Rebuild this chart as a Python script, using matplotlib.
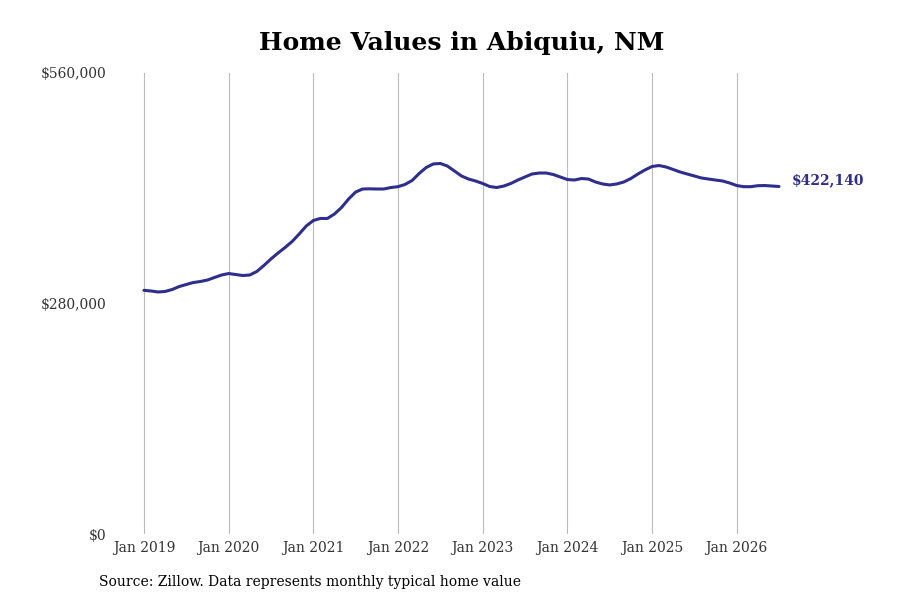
import numpy as np
import matplotlib
matplotlib.use("Agg")
import matplotlib.pyplot as plt
from matplotlib.ticker import FuncFormatter

# Monthly typical home value, Jan 2019 .. Jul 2026
months = np.arange(91)
values = [
    296000, 295200, 294000, 294600, 297000, 300600, 303100, 305500, 306700, 308500, 311600, 314600,
    316400, 315200, 314000, 314600, 318900, 326200, 334100, 341300, 348000, 355300, 364400, 374100,
    380800, 383300, 383300, 388700, 396600, 406900, 415400, 419100, 419300, 419100, 419100, 420900,
    421900, 424600, 429400, 437900, 445200, 449500, 450100, 447000, 441000, 434900, 431200, 428800,
    425800, 422100, 420900, 422700, 425800, 430000, 433700, 437300, 438500, 438500, 436700, 433700,
    430600, 430000, 431800, 431200, 427600, 425200, 424000, 425200, 427600, 431800, 437300, 442200,
    446400, 447600, 445800, 442800, 439700, 437300, 434900, 432500, 431200, 430000, 428800, 426400,
    423300, 421900, 421900, 423100, 423300, 422700, 422140,
]
tick_pos = [0, 12, 24, 36, 48, 60, 72, 84]
tick_labels = ["Jan 2019", "Jan 2020", "Jan 2021", "Jan 2022",
               "Jan 2023", "Jan 2024", "Jan 2025", "Jan 2026"]
y_ticks = [0, 280000, 560000]

line_color = "#2e2e8c"
plt.rcParams['font.family'] = ['DejaVu Serif']

fig = plt.figure(figsize=(9, 6), dpi=100)
ax = fig.add_axes([115 / 900, 66 / 600, 670 / 900, 461 / 600])

ax.plot(months, values, color=line_color, linewidth=2.2, solid_capstyle='round')

ax.set_xlim(-4.1, 90.85)
ax.set_ylim(0, 560000)
ax.set_xticks(tick_pos)
ax.set_xticklabels(tick_labels)
ax.set_yticks(y_ticks)
ax.yaxis.set_major_formatter(FuncFormatter(lambda v, p: f"${v:,.0f}"))
ax.tick_params(axis='both', length=0, labelsize=10, colors="#333333")
ax.tick_params(axis='x', pad=5)
ax.tick_params(axis='y', pad=6)
ax.grid(axis='x', color="#bbbbbb", linewidth=0.8)
for s in ax.spines.values():
    s.set_visible(False)

# end-of-line value label
ax.annotate(f"${values[-1]:,.0f}", xy=(months[-1], values[-1]),
            xytext=(9, 4.3), textcoords='offset points',
            ha='left', va='center', fontsize=10, fontweight='bold', color=line_color)

fig.text(462 / 900, 1 - 43 / 600, "Home Values in Abiquiu, NM",
         ha='center', va='center', fontsize=18, fontweight='bold')
fig.text(99 / 900, 1 - 582 / 600, "Source: Zillow. Data represents monthly typical home value",
         ha='left', va='center', fontsize=10)

fig.savefig("out.png", dpi=100)
